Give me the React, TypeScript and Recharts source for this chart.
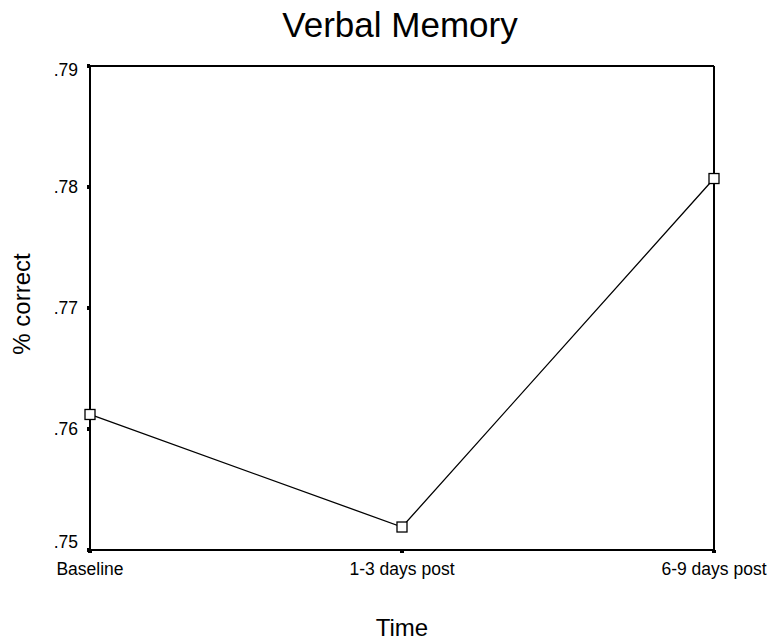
import { Line, LineChart, XAxis, YAxis } from "recharts";

const timepoints = ["Baseline", "1-3 days post", "6-9 days post"];
const pctCorrect = [0.7612, 0.7519, 0.7807];
const yTicks = [0.75, 0.76, 0.77, 0.78, 0.79];

const data = timepoints.map((t, i) => ({ time: t, value: pctCorrect[i] }));

const FONT = "Liberation Sans, Arial, sans-serif";
const TICK = { fill: "#000", fontSize: 17.5, fontFamily: FONT } as const;

function SquareDot(props: { cx?: number; cy?: number; index?: number }) {
  const { cx, cy, index } = props;
  if (cx == null || cy == null) return null;
  return (
    <rect
      key={index}
      x={cx - 5}
      y={cy - 5}
      width={10}
      height={10}
      fill="#fff"
      stroke="#000"
      strokeWidth={1.3}
    />
  );
}

const fmt = (v: number) => v.toFixed(2).replace(/^0/, "");

// end labels are kept inside the frame, like the SPSS original
function YTick(props: { x?: number; y?: number; payload?: { value: number }; index?: number }) {
  const { x = 0, y = 0, payload, index = 0 } = props;
  const shift = index === 0 ? -8 : index === yTicks.length - 1 ? 4 : 0;
  return (
    <text x={x} y={y + shift} dy="0.355em" textAnchor="end" {...TICK}>
      {payload ? fmt(payload.value) : ""}
    </text>
  );
}

export default function App() {
  return (
    <div style={{ position: "absolute", left: 0, top: 0, width: 779, height: 644, background: "#fff", fontFamily: FONT }}>
      <div style={{ position: "absolute", left: 0, width: 800, top: 5, textAlign: "center", fontSize: 35, color: "#000" }}>
        Verbal Memory
      </div>
      <div
        style={{
          position: "absolute",
          left: 22,
          top: 304,
          transform: "translate(-50%, -50%) rotate(-90deg)",
          fontSize: 24,
          whiteSpace: "nowrap",
        }}
      >
        % correct
      </div>
      <div style={{ position: "absolute", left: 90, width: 624, top: 614, textAlign: "center", fontSize: 24 }}>
        Time
      </div>
      <LineChart
        width={779}
        height={644}
        data={data}
        margin={{ top: 65, right: 64, bottom: 64, left: 0 }}
      >
        <XAxis
          dataKey="time"
          tick={TICK}
          stroke="#000"
          strokeWidth={2}
          tickSize={3}
          tickLine={{ stroke: "#000", strokeWidth: 4 }}
          tickMargin={10}
          height={30}
          interval={0}
        />
        <XAxis xAxisId="top" dataKey="time" orientation="top" tick={false} tickLine={false} stroke="#000" strokeWidth={2} height={1} />
        <YAxis
          domain={[0.75, 0.79]}
          ticks={yTicks}
          tick={<YTick />}
          stroke="#000"
          strokeWidth={2}
          tickSize={3}
          tickLine={{ stroke: "#000", strokeWidth: 4 }}
          tickMargin={9}
          width={90}
        />
        <YAxis yAxisId="right" orientation="right" domain={[0.75, 0.79]} tick={false} tickLine={false} stroke="#000" strokeWidth={2} width={1} />
        <Line
          dataKey="value"
          stroke="#000"
          strokeWidth={1.3}
          dot={<SquareDot />}
          activeDot={false}
          isAnimationActive={false}
        />
      </LineChart>
    </div>
  );
}
